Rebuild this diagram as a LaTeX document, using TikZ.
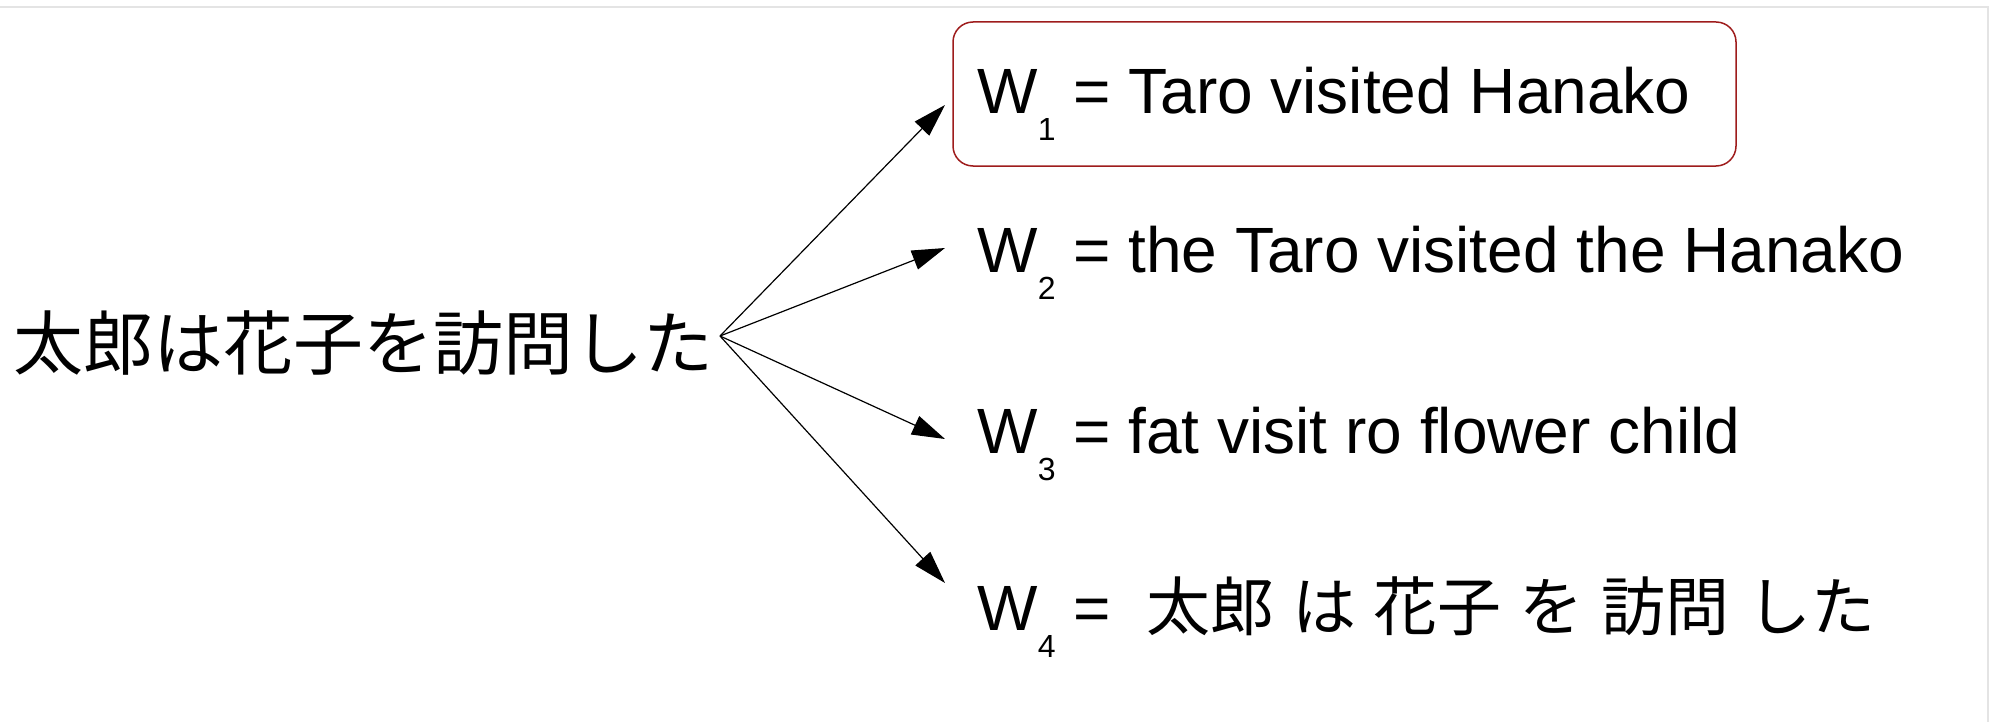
\documentclass[tikz,border=0pt]{standalone}
\usepackage{fontspec}
\setmainfont{Liberation Sans}
\newfontfamily\cjk{Noto Sans CJK JP}
\usetikzlibrary{arrows.meta}
\definecolor{boxred}{RGB}{158,28,28}
\definecolor{framegray}{RGB}{228,228,228}
\newcommand\wsub[1]{\raisebox{-13.5pt}{\fontsize{16}{18}\selectfont #1}}
\tikzset{
  line/.style={line width=0.6pt, -{Triangle[length=16.5pt,width=10pt]}},
  wtext/.style={anchor=base west, inner sep=0pt, font=\fontsize{32}{38}\selectfont},
  srctext/.style={anchor=base west, inner sep=0pt, font=\cjk\fontsize{35}{42}\selectfont},
  hl/.style={draw=boxred, line width=0.75pt, rounded corners=10pt, inner sep=0pt},
  frame/.style={draw=framegray, line width=1pt}
}
\begin{document}
\begin{tikzpicture}[x=0.5pt,y=-0.5pt]
\useasboundingbox (0,0) rectangle (1990,722);
\draw[frame] (0,7) -- (1988,7) -- (1988,722);
\node[hl, minimum width=391.5pt, minimum height=72pt] (box) at (1344.5,94) {};
\node[srctext] (src) at (13,369) {太郎は花子を訪問した};
\node[wtext] (w1) at (977,113) {W\wsub{1} = Taro visited Hanako};
\node[wtext] (w2) at (977,272) {W\wsub{2} = the Taro visited the Hanako};
\node[wtext] (w3) at (977,453) {W\wsub{3} = fat visit ro flower child};
\node[wtext] (w4) at (977,630) {W\wsub{4} =\ \ {\cjk 太郎} {\cjk は} {\cjk 花子} {\cjk を} {\cjk 訪問} {\cjk した}};
\coordinate (s) at (720,336);
\coordinate (t1) at (945,105);
\coordinate (t2) at (945,248);
\coordinate (t3) at (945,439);
\coordinate (t4) at (945,583);
\draw[line] (s) -- (t1);
\draw[line] (s) -- (t2);
\draw[line] (s) -- (t3);
\draw[line] (s) -- (t4);
\end{tikzpicture}
\end{document}
